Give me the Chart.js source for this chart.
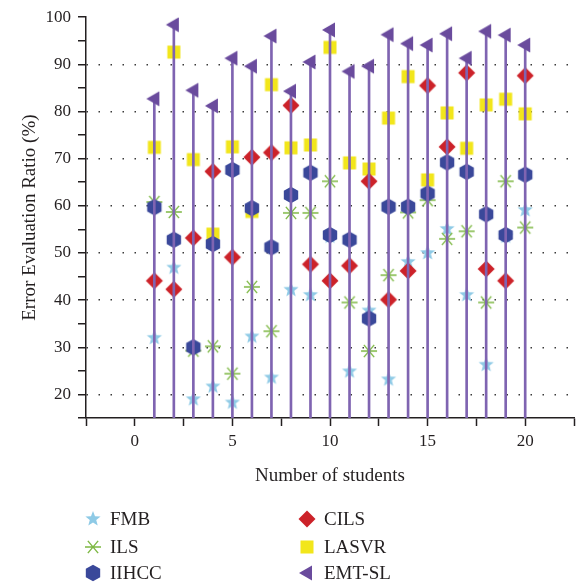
<!DOCTYPE html>
<html>
<head>
<meta charset="utf-8">
<script src="https://cdn.jsdelivr.net/npm/chart.js@4"></script>
<style>
  html, body { margin: 0; padding: 0; background: #fff; }
  #wrap { width: 579px; height: 584px; }
</style>
</head>
<body>
<div id="wrap"><canvas id="chart"></canvas></div>
<script>
// -- Data --
const students = [1, 2, 3, 4, 5, 6, 7, 8, 9, 10, 11, 12, 13, 14, 15, 16, 17, 18, 19, 20]
const fmb   = [32.0, 46.9, 19.0, 21.7, 18.3, 32.3, 23.6, 42.2, 41.1, 53.5, 24.9, 37.8, 23.2, 48.1, 50.0, 55.1, 41.1, 26.3, 53.5, 59.1]
const ils   = [60.8, 58.7, 29.3, 30.2, 24.4, 42.8, 33.4, 58.5, 58.5, 65.2, 39.5, 29.2, 45.3, 58.6, 61.2, 53.0, 54.6, 39.5, 65.2, 55.4]
const iihcc = [59.7, 52.8, 30.0, 51.9, 67.6, 59.5, 51.2, 62.3, 67.0, 53.8, 52.8, 36.1, 59.8, 59.8, 62.6, 69.2, 67.2, 58.2, 53.8, 66.6]
const cils  = [44.1, 42.3, 53.2, 67.3, 49.1, 70.3, 71.3, 81.3, 47.6, 44.1, 47.3, 65.2, 40.1, 46.2, 85.5, 72.5, 88.2, 46.6, 44.1, 87.6]
const lasvr = [72.4, 92.6, 69.8, 54.0, 72.5, 58.8, 85.7, 72.3, 72.9, 93.6, 69.1, 67.8, 78.6, 87.4, 65.5, 79.7, 72.2, 81.4, 82.6, 79.5]
const emtsl = [82.7, 98.4, 84.5, 81.2, 91.3, 89.6, 96.0, 84.3, 90.5, 97.3, 88.5, 89.6, 96.3, 94.4, 94.1, 96.5, 91.3, 97.0, 96.2, 94.1]
const seriesNames = ['FMB', 'ILS', 'IIHCC', 'CILS', 'LASVR', 'EMT-SL']

const FONT = '"Liberation Serif", "DejaVu Serif", serif'
const TEXT = '#231F20'

// -- Marker images --
let makeMarker = function(kind, color) {
  const c = document.createElement('canvas')
  c.width = 20
  c.height = 20
  const g = c.getContext('2d')
  g.translate(10, 10)
  g.fillStyle = color
  g.strokeStyle = color
  g.beginPath()
  switch (kind) {
    case 'star':
      for (let i = 0; i < 10; i++) {
        let r = i % 2 === 0 ? 8 : 3.4
        let a = -Math.PI / 2 + i * Math.PI / 5
        g.lineTo(r * Math.cos(a), r * Math.sin(a))
      }
      g.closePath()
      g.fill()
      break
    case 'asterisk':
      g.lineWidth = 1.4
      for (let a of [0, 50, -50]) {
        let t = a * Math.PI / 180
        g.moveTo(-8 * Math.cos(t), -8 * Math.sin(t))
        g.lineTo(8 * Math.cos(t), 8 * Math.sin(t))
      }
      g.stroke()
      break
    case 'hexagon':
      for (let i = 0; i < 6; i++) {
        let a = -Math.PI / 2 + i * Math.PI / 3
        g.lineTo(8.3 * Math.cos(a), 8.3 * Math.sin(a))
      }
      g.closePath()
      g.fill()
      break
    case 'diamond':
      g.moveTo(0, -8.5); g.lineTo(8.5, 0); g.lineTo(0, 8.5); g.lineTo(-8.5, 0)
      g.closePath()
      g.fill()
      break
    case 'square':
      g.fillRect(-6.5, -6.5, 13, 13)
      break
    case 'triangle':
      g.moveTo(-8, 0); g.lineTo(5, -7.5); g.lineTo(5, 7.5)
      g.closePath()
      g.fill()
      break
  }
  return c
}

const markers = [
  makeMarker('star', '#8ECAE6'),
  makeMarker('asterisk', '#7DB843'),
  makeMarker('hexagon', '#3A489A'),
  makeMarker('diamond', '#CC2229'),
  makeMarker('square', '#F2E61B'),
  makeMarker('triangle', '#6A4B9D')
]

let toPoints = function(vals) {
  return students.map((x, i) => ({ x: x, y: vals[i] }))
}

let scatterSet = function(idx, vals, order) {
  return {
    type: 'scatter',
    label: seriesNames[idx],
    data: toPoints(vals),
    pointStyle: markers[idx],
    pointRadius: 8,
    pointHoverRadius: 8,
    order: order
  }
}

// legend drawn in two columns like the original
const legendPlugin = {
  id: 'twoColLegend',
  afterDraw(chart) {
    const ctx = chart.ctx
    const cols = [93, 307]
    const rows = [519, 547, 573]
    ctx.save()
    ctx.font = '19px ' + FONT
    ctx.fillStyle = TEXT
    ctx.textBaseline = 'middle'
    for (let i = 0; i < 6; i++) {
      let cx = cols[Math.floor(i / 3)]
      let cy = rows[i % 3]
      ctx.drawImage(markers[i], cx - 10, cy - 10)
      ctx.fillText(seriesNames[i], cx + 17, cy + 1)
    }
    ctx.restore()
  }
}

let ctx = document.getElementById('chart')
let chart = new Chart(ctx, {
  type: 'scatter',
  data: {
    datasets: [
      scatterSet(5, emtsl, 0),
      {
        type: 'bar',
        label: 'drop',
        data: toPoints(emtsl),
        backgroundColor: '#7F64B1',
        barThickness: 2,
        order: 1
      },
      scatterSet(3, cils, 2),
      scatterSet(2, iihcc, 2),
      scatterSet(4, lasvr, 2),
      scatterSet(1, ils, 2),
      scatterSet(0, fmb, 2)
    ]
  },
  options: {
    responsive: true,
    maintainAspectRatio: false,
    animation: false,
    events: [],
    layout: {
      autoPadding: false,
      padding: { left: 0, right: 3, top: 16, bottom: 94 }
    },
    plugins: {
      legend: { display: false },
      tooltip: { enabled: false }
    },
    scales: {
      x: {
        type: 'linear',
        min: -2.5,
        max: 22.5,
        offset: false,
        afterFit: function(scale) { scale.height = 72 },
        ticks: {
          stepSize: 2.5,
          autoSkip: false,
          maxRotation: 0,
          padding: 5,
          color: TEXT,
          font: { family: FONT, size: 17 },
          callback: v => (v % 5 === 0 ? v : '')
        },
        grid: {
          offset: false,
          drawOnChartArea: false,
          drawTicks: true,
          tickLength: 8,
          tickColor: TEXT,
          tickWidth: 1.5
        },
        border: { display: true, color: TEXT, width: 1.5 },
        title: {
          display: true,
          text: 'Number of students',
          color: TEXT,
          font: { family: FONT, size: 19 },
          padding: { top: 0, bottom: 3 }
        }
      },
      y: {
        min: 15,
        max: 100,
        afterFit: function(scale) { scale.width = 86 },
        ticks: {
          stepSize: 5,
          autoSkip: false,
          padding: 7,
          color: TEXT,
          font: { family: FONT, size: 17 },
          callback: v => (v % 10 === 0 ? v : '')
        },
        grid: {
          color: c => (c.tick && c.tick.value % 10 === 0 && c.tick.value < 100 ? '#3a3a3a' : 'rgba(0,0,0,0)'),
          lineWidth: 1.5,
          drawTicks: true,
          tickLength: 8,
          tickColor: TEXT,
          tickWidth: 1.5,
          tickBorderDash: []
        },
        border: { display: true, color: TEXT, width: 1.5, dash: [1.5, 10.5] },
        title: {
          display: true,
          text: 'Error Evaluation Ratio (%)',
          color: TEXT,
          font: { family: FONT, size: 19 },
          padding: { top: 19, bottom: 0 }
        }
      }
    }
  },
  plugins: [legendPlugin]
})
</script>
</body>
</html>
